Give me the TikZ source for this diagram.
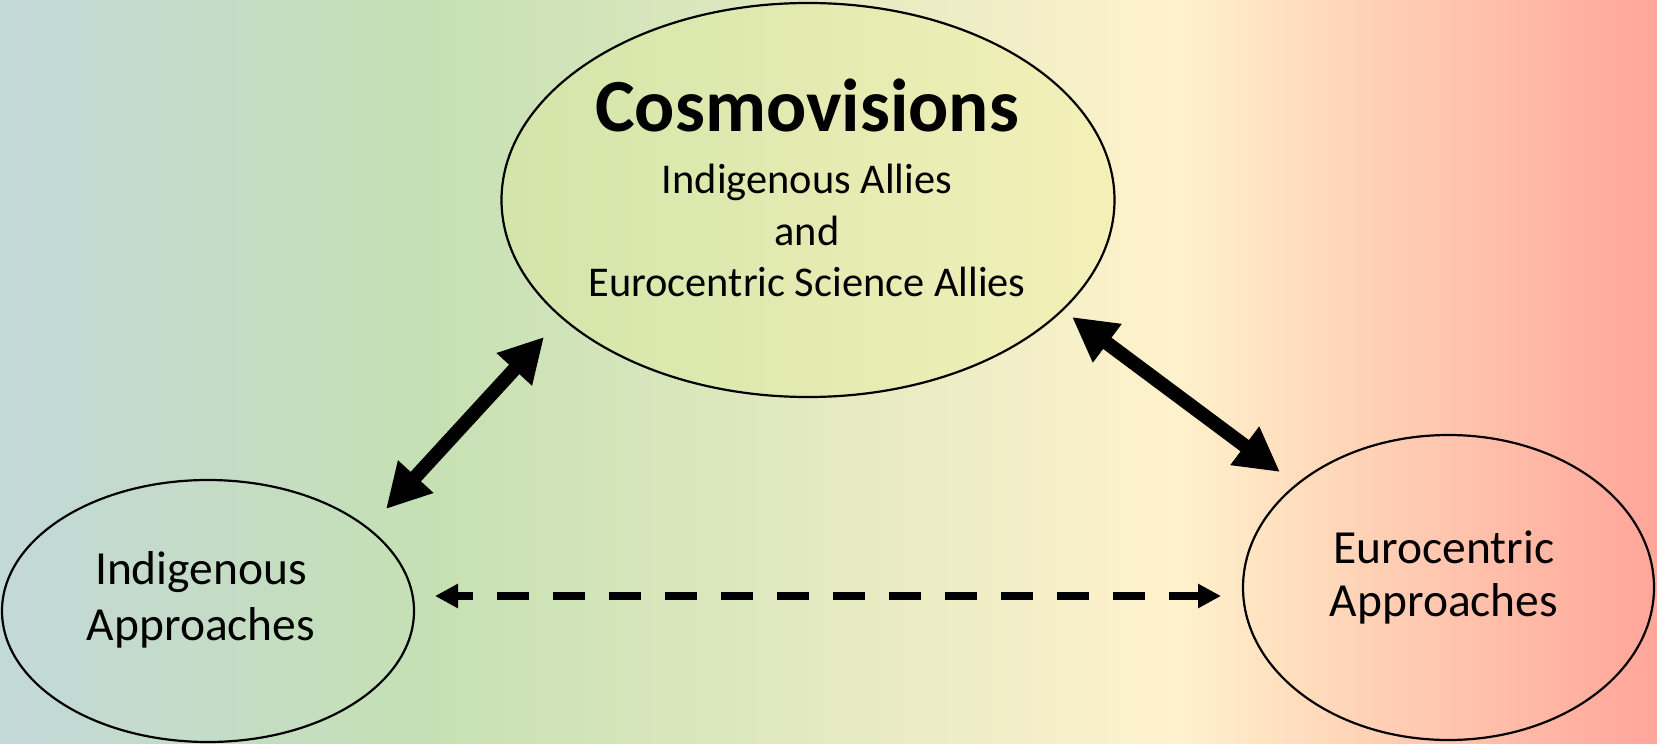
\documentclass[tikz,border=0pt]{standalone}
\usepackage{fontspec}
\setmainfont{Carlito}
\usetikzlibrary{shapes.geometric,arrows.meta}
\definecolor{bgA}{HTML}{C3D8D9}
\definecolor{bgB}{HTML}{C5E0B4}
\definecolor{bgC}{HTML}{FFF2CC}
\definecolor{bgD}{HTML}{FFD0B5}
\definecolor{bgE}{HTML}{FFA59A}
\definecolor{topL}{HTML}{D2E5AA}
\definecolor{topR}{HTML}{F4F0B8}
\pgfdeclarehorizontalshading{bgshade}{100bp}{color(0bp)=(bgA); color(25bp)=(bgA); color(37.75bp)=(bgB); color(60.5bp)=(bgC); color(66.5bp)=(bgD); color(75bp)=(bgE); color(100bp)=(bgE)}
\tikzset{
  oval/.style={ellipse, draw=black, line width=1.1pt, inner sep=0pt},
  bigarrow/.style={line width=7pt, {Triangle[length=22pt,width=22.5pt]}-{Triangle[length=22pt,width=22.5pt]}},
  dasharrow/.style={line width=4.1pt, dash pattern=on 16pt off 12pt, dash phase=8pt, {Triangle[length=11.5pt,width=11.5pt]}-{Triangle[length=11.5pt,width=11.5pt]}},
  titletext/.style={anchor=base, inner sep=0pt, font=\fontsize{37.5pt}{45pt}\selectfont\bfseries},
  subtext/.style={anchor=base, inner sep=0pt, font=\fontsize{21.2pt}{25.75pt}\selectfont},
  sidetext/.style={anchor=base, inner sep=0pt, font=\fontsize{23.75pt}{26.5pt}\selectfont}
}
\begin{document}
\begin{tikzpicture}[x=0.5pt,y=-0.5pt]
\useasboundingbox (0,0) rectangle (1657,743);
\shade[shading=bgshade] (0,0) rectangle (1657,743);
% ellipses
\node[oval, left color=topL, right color=topR, minimum width=306.5pt, minimum height=197pt] (top) at (808,200) {};
\node[oval, minimum width=206pt, minimum height=131pt] (left) at (208,611) {};
\node[oval, minimum width=205.5pt, minimum height=152.5pt] (right) at (1448.5,587.5) {};
% texts
\node[titletext] (cosmo) at (807,131.7) {Cosmovisions};
\node[subtext] (allies1) at (807,193.5) {Indigenous Allies};
\node[subtext] (and) at (807,245) {and};
\node[subtext] (allies2) at (807,296) {Eurocentric Science Allies};
\node[sidetext] (ind1) at (201,584) {Indigenous};
\node[sidetext] (ind2) at (201,640) {Approaches};
\node[sidetext] (eur1) at (1444,563) {Eurocentric};
\node[sidetext] (eur2) at (1444,616) {Approaches};
% arrow ends
\coordinate (la1) at (386,509);
\coordinate (la2) at (544,337);
\coordinate (ra1) at (1072,317);
\coordinate (ra2) at (1280,472);
\coordinate (da1) at (435,596);
\coordinate (da2) at (1221,596);
\draw[bigarrow] (la1) -- (la2);
\draw[bigarrow] (ra1) -- (ra2);
\draw[dasharrow] (da1) -- (da2);
\end{tikzpicture}
\end{document}
